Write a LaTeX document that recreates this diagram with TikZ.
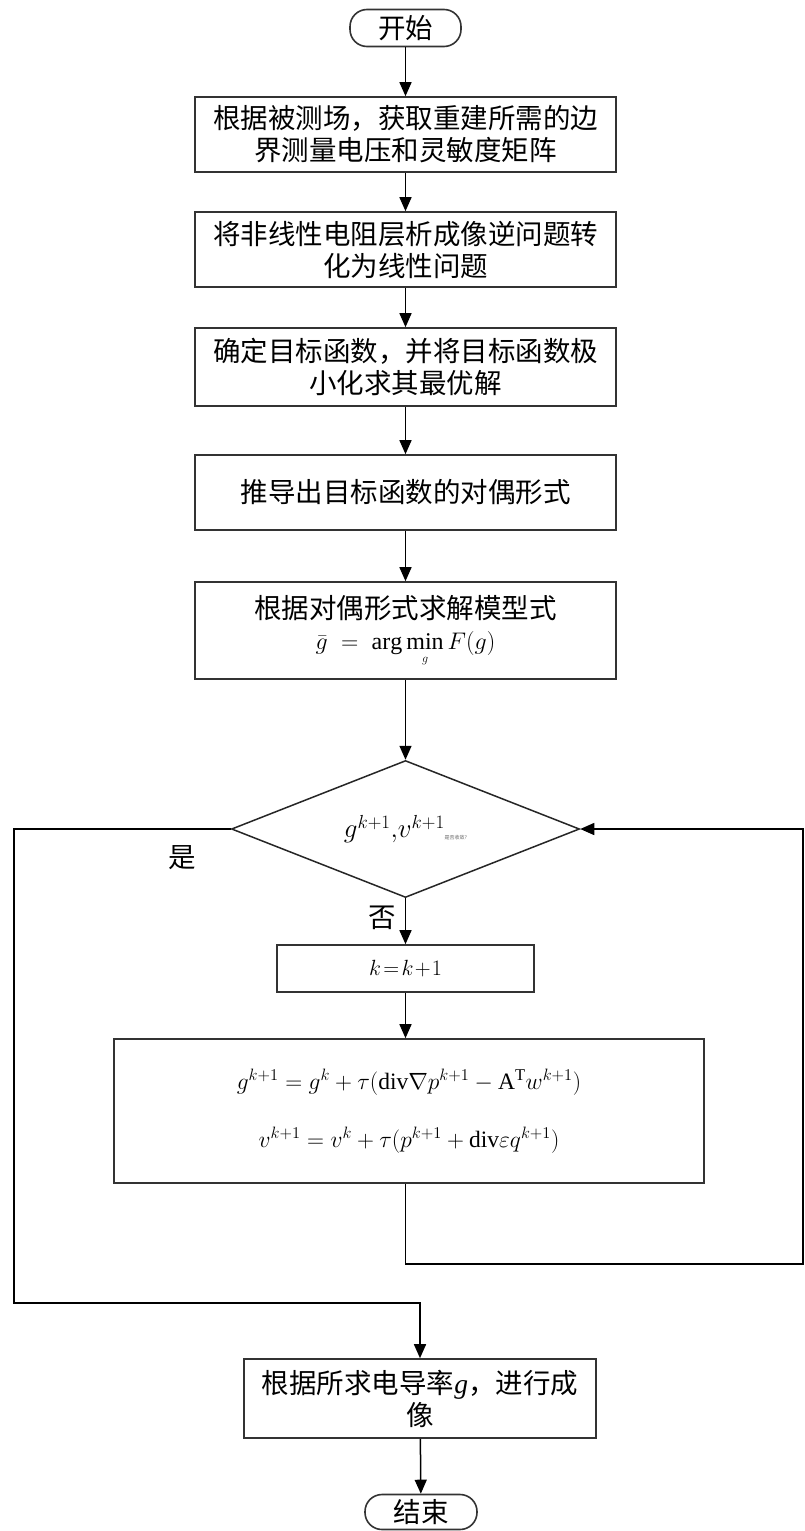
\RequirePackage{fix-cm}
\documentclass[tikz,border=0pt]{standalone}
\usepackage{fontspec}
\setmainfont{Liberation Serif}
\newfontfamily\cjk{Noto Sans CJK SC}
\usetikzlibrary{arrows.meta,shapes.geometric}
\begin{document}
\begin{tikzpicture}[x=1pt,y=-1pt,
  box/.style={draw=black!80, line width=1.6pt, inner sep=0pt, align=center,
    font=\cjk\fontsize{27.5}{32}\selectfont},
  term/.style={box, rounded corners=17pt},
  lab/.style={inner sep=0pt, font=\cjk\fontsize{27.5}{32}\selectfont},
  arr/.style={line width=1.5pt, -{Triangle[length=14pt,width=12pt]}},
  ln/.style={line width=1.5pt}]
\useasboundingbox (0,0) rectangle (805,1531);
\fill[white] (0,0) rectangle (805,1531);

\node[term, minimum width=111, minimum height=37] (start) at (405.5,28) {开始};
\node[box, minimum width=421, minimum height=75] (b1) at (405.5,134.5)
  {根据被测场，获取重建所需的边\\界测量电压和灵敏度矩阵};
\node[box, minimum width=421, minimum height=75] (b2) at (405.5,249.5)
  {将非线性电阻层析成像逆问题转\\化为线性问题};
\node[box, minimum width=421, minimum height=78] (b3) at (405.5,367)
  {确定目标函数，并将目标函数极\\小化求其最优解};
\node[box, minimum width=421, minimum height=75] (b4) at (405.5,492.5)
  {推导出目标函数的对偶形式};
\node[box, minimum width=421, minimum height=97] (b5) at (405.5,630.5)
  {根据对偶形式求解模型式\\[-1pt]{\fontsize{24}{28}\selectfont$\bar{g}\;=\;\arg\min\limits_{\rule{0pt}{12pt}\scriptscriptstyle g}F(g)$}};
\node[draw=black!85, line width=1.5pt, diamond, aspect=2.54, inner sep=0pt,
  minimum width=348, minimum height=137] (dia) at (405.5,829)
  {\fontsize{27}{32}\selectfont$g^{k+1}{,}v^{k+1}$\raisebox{-2pt}{\cjk\fontsize{5}{6}\selectfont\color{black!60}是否收敛?}};
\node[box, minimum width=257, minimum height=47, font=\fontsize{22}{26}\selectfont] (kb) at (405.5,968.5)
  {$k\!=\!k\!+\!1$};
\node[box, minimum width=590, minimum height=144, font=\fontsize{23.5}{28}\selectfont] (upd) at (409,1111)
  {$g^{k+1}=g^{k}+\tau(\mathrm{div}\nabla p^{k+1}-\mathrm{A}^{\mathrm{T}}w^{k+1})$\\[30pt]
   $v^{k+1}=v^{k}+\tau(p^{k+1}+\mathrm{div}\varepsilon q^{k+1})$};
\node[box, minimum width=352, minimum height=79] (fin) at (420,1398.5)
  {根据所求电导率{\rmfamily\itshape g}，进行成\\像};
\node[term, minimum width=112, minimum height=35] (end) at (421,1512) {结束};

\node[lab] (yes) at (182,858) {是};
\node[lab] (no) at (382,918) {否};

\coordinate (fbA) at (405.5,1264);
\coordinate (fbB) at (803,1264);
\coordinate (yA) at (14,1303);

\draw[arr] (start) -- (b1);
\draw[arr] (b1) -- (b2);
\draw[arr] (b2) -- (b3);
\draw[arr] (b3) -- (b4);
\draw[arr] (b4) -- (b5);
\draw[arr] (b5) -- (dia);
\draw[arr] (dia) -- (kb);
\draw[arr] (kb.south) -- (kb.south |- upd.north);
\draw[arr] (upd.south -| fbA) -- (fbA) -- (fbB) -- (fbB |- dia.east) -- (dia.east);
\draw[arr] (dia.west) -- (dia.west -| yA) -- (yA) -- (yA -| fin.north) -- (fin.north);
\draw[arr] (fin) -- (end);
\end{tikzpicture}
\end{document}
